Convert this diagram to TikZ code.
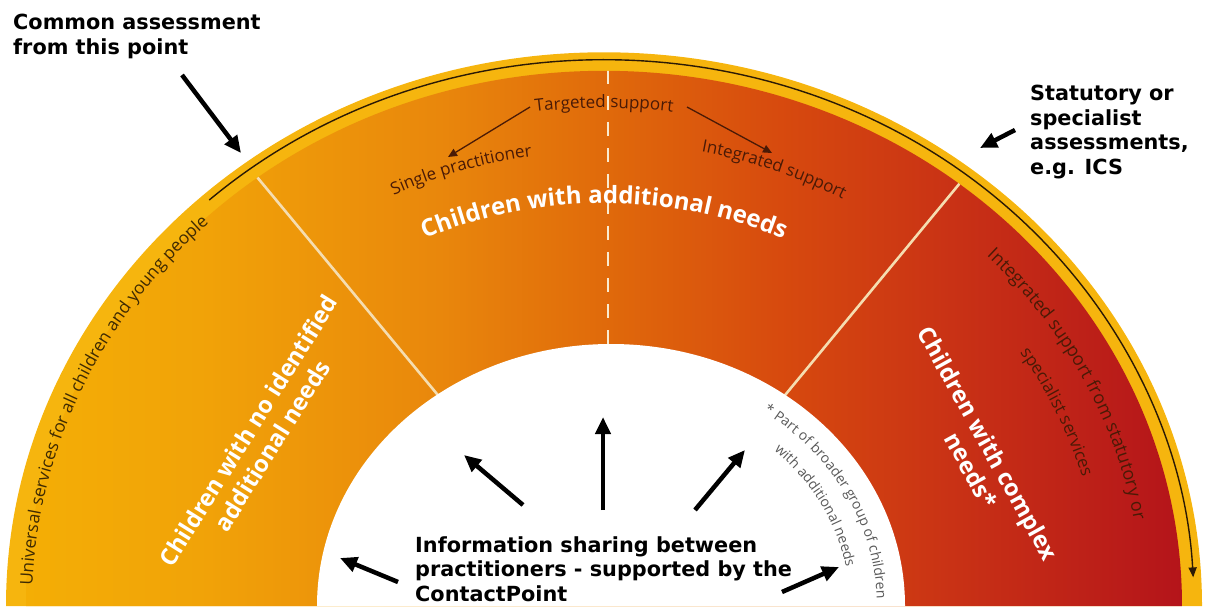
\documentclass[tikz,border=0pt]{standalone}
\usepackage{fontspec}
\usetikzlibrary{arrows.meta,decorations.text}
\newfontfamily\labfont{DejaVu Sans}
\newfontfamily\ringfont{Open Sans}
\definecolor{ringyellow}{HTML}{F6B50E}
\definecolor{cA}{HTML}{F4AE05}
\definecolor{cB}{HTML}{F1A308}
\definecolor{cC}{HTML}{E9870C}
\definecolor{cD}{HTML}{E06A0B}
\definecolor{cE}{HTML}{D74A0E}
\definecolor{cF}{HTML}{C93215}
\definecolor{cG}{HTML}{B4141A}
\definecolor{arcline}{HTML}{2B1A05}
\definecolor{cream}{HTML}{F5DDB0}
\definecolor{darkbrown}{HTML}{4A1A06}
\definecolor{greytext}{HTML}{5A5A5A}
\definecolor{unitext}{HTML}{3E2A02}
\pgfdeclarehorizontalshading{ringshade}{100bp}{color(0bp)=(cA); color(25bp)=(cA); color(32.5bp)=(cB); color(42.9bp)=(cC); color(50bp)=(cD); color(57.6bp)=(cE); color(65bp)=(cF); color(75bp)=(cG); color(100bp)=(cG)}
\begin{document}
\begin{tikzpicture}[x=1pt,y=1pt,
  lab/.style={font=\labfont\bfseries\fontsize{20.8}{24.5}\selectfont, align=left, inner sep=0pt, anchor=north west, text=black},
  bigarrow/.style={line width=4.5pt, -{Triangle[length=17pt,width=15pt]}, black},
  thinarrow/.style={line width=1.3pt, -{Triangle[length=9pt,width=8pt]}, darkbrown},
  bigwhite/.style={font=\ringfont\bfseries\fontsize{23.5}{28}\selectfont, text=white, align=center, inner sep=0pt},
  divline/.style={line width=2.6pt, cream},
  dashline/.style={line width=2.8pt, cream!60!white, dash pattern=on 14pt off 12pt},
]
\useasboundingbox (0,0) rectangle (1210,606);

% outer yellow band
\fill[ringyellow] (6,0) arc[start angle=180,end angle=0,x radius=598,y radius=553.7] -- cycle;

% coloured ring with dividers
\begin{scope}
  \clip (26,0) arc[start angle=180,end angle=0,x radius=578,y radius=535.2] -- cycle;
  \shade[shading=ringshade] (26,0) rectangle (1182,536);
  \draw[divline] (489.5,148.7) -- (209.5,486.3);
  \draw[divline] (734,149) -- (1012,486);
  \draw[dashline] (608,536) -- (608,262);
\end{scope}

% inner white area
\fill[white] (317,0) arc[start angle=180,end angle=0,x radius=294,y radius=262] -- cycle;

% dark arc with arrow
\draw[line width=1.4pt, arcline, -{Triangle[length=10pt,width=8pt]}]
  ({604+590*cos(132)},{546.3*sin(132)}) arc[start angle=132,end angle=3,x radius=590,y radius=546.3];

% curved texts
\path[decorate, decoration={text along path, text align=center,
  text={|\ringfont\bfseries\fontsize{24}{24}\selectfont\color{white}|Children with additional needs}}]
  ({604+435*cos(140)},{402.8*sin(140)}) arc[start angle=140,end angle=40,x radius=435,y radius=402.8];

\path[decorate, decoration={text along path, text align=center,
  text={|\ringfont\fontsize{17}{17}\selectfont\color{darkbrown}|Targeted support}}]
  ({604+538*cos(115)},{498.1*sin(115)}) arc[start angle=115,end angle=65,x radius=538,y radius=498.1];

\path[decorate, decoration={text along path, text align=center,
  text={|\ringfont\fontsize{17}{17}\selectfont\color{darkbrown}|Single practitioner}}]
  ({604+491*cos(127)},{454.6*sin(127)}) arc[start angle=127,end angle=87,x radius=491,y radius=454.6];

\path[decorate, decoration={text along path, text align=center,
  text={|\ringfont\fontsize{17}{17}\selectfont\color{darkbrown}|Integrated support}}]
  ({604+500*cos(90)},{463*sin(90)}) arc[start angle=90,end angle=50,x radius=500,y radius=463];

\path[decorate, decoration={text along path, text align=center,
  text={|\ringfont\fontsize{17.3}{17.3}\selectfont\color{unitext}|Universal services for all children and young people}}]
  ({604+572*cos(188)},{529.6*sin(188)}) arc[start angle=188,end angle=124,x radius=572,y radius=529.6];

\path[decorate, decoration={text along path, text align=center,
  text={|\ringfont\fontsize{18}{18}\selectfont\color{darkbrown}|Integrated support from statutory or}}]
  ({604+538*cos(57)},{498.1*sin(57)}) arc[start angle=57,end angle=-3,x radius=538,y radius=498.1];

\path[decorate, decoration={text along path, text align=center,
  text={|\ringfont\fontsize{17}{17}\selectfont\color{darkbrown}|specialist services}}]
  ({604+498*cos(50)},{461.1*sin(50)}) arc[start angle=50,end angle=-1,x radius=498,y radius=461.1];

\path[decorate, decoration={text along path,
  text={|\ringfont\fontsize{14}{14}\selectfont\color{greytext}|* Part of broader group of children}}]
  ({611+266*cos(55)},{237*sin(55)}) arc[start angle=55,end angle=-30,x radius=266,y radius=237];

\path[decorate, decoration={text along path,
  text={|\ringfont\fontsize{14}{14}\selectfont\color{greytext}|with additional needs}}]
  ({611+239*cos(47)},{213*sin(47)}) arc[start angle=47,end angle=-30,x radius=239,y radius=213];

% big white rotated labels
\node[bigwhite, rotate=58] (noneeds) at (260,168) {Children with no identified\\additional needs};
\node[bigwhite, rotate=-61] (complex) at (976,156) {Children with complex\\\hphantom{nn}needs*};

% targeted support arrows
\coordinate (tsL) at (530,499);
\coordinate (spr) at (448,449);
\coordinate (tsR) at (687,499);
\coordinate (isp) at (772,453);
\draw[thinarrow] (tsL) -- (spr);
\draw[thinarrow] (tsR) -- (isp);

% black labels
\node[lab] (common) at (13,592) {Common assessment\\from this point};
\node[lab] (statutory) at (1030,521) {Statutory or\\specialist\\assessments,\\e.g. ICS};
\node[lab] (info) at (415,70) {Information sharing between\\practitioners - supported by the\\ContactPoint};

% black arrows
\coordinate (ca1) at (182,531); \coordinate (ca2) at (241,453);
\coordinate (sa1) at (1015,476); \coordinate (sa2) at (980,458);
\coordinate (a1) at (398,24);  \coordinate (a2) at (340,48);
\coordinate (b1) at (523,101); \coordinate (b2) at (464,151);
\coordinate (c1) at (603,96);  \coordinate (c2) at (603,189);
\coordinate (d1) at (695,96);  \coordinate (d2) at (745,156);
\coordinate (e1) at (782,14);  \coordinate (e2) at (839,39);
\draw[bigarrow] (ca1) -- (ca2);
\draw[bigarrow] (sa1) -- (sa2);
\draw[bigarrow] (a1) -- (a2);
\draw[bigarrow] (b1) -- (b2);
\draw[bigarrow] (c1) -- (c2);
\draw[bigarrow] (d1) -- (d2);
\draw[bigarrow] (e1) -- (e2);
\end{tikzpicture}
\end{document}
